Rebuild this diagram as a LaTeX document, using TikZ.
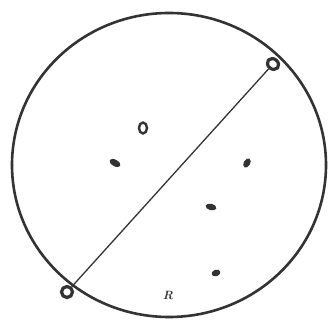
\documentclass[tikz,border=0pt]{standalone}
\usetikzlibrary{shapes.geometric}
\definecolor{ink}{HTML}{333333}

\begin{document}
\begin{tikzpicture}[x=1pt, y=-1pt,
  pin/.style={draw=ink, line width=3.2pt, fill=white, ellipse,
    minimum width=12pt, minimum height=10pt, inner sep=0pt},
  spot/.style={fill=ink, ellipse, inner sep=0pt,
    minimum width=#1, minimum height=6.5pt},
  ring/.style={draw=ink, line width=2.4pt, ellipse, inner sep=0pt,
    minimum width=8pt, minimum height=11pt},
]
\useasboundingbox (0,0) rectangle (333,323);

% Outer circle
\draw[ink, line width=2.6pt] (169,165) ellipse [x radius=157, y radius=152];

% Chord ends
\node[pin, rotate=-40] (top) at (273,64) {};
\node[pin, minimum width=11pt, minimum height=11pt] (bot) at (67,292) {};

% Chord
\draw[ink, line width=1.3pt] (top) -- (bot);

% Marks
\node[ring] (oh) at (143,128) {};
\node[spot=12pt, rotate=-30] (s1) at (115,163) {};
\node[spot=10pt, rotate=60] (s2) at (247,163) {};
\node[spot=11pt, rotate=-15] (s3) at (211,207) {};
\node[spot=9pt, rotate=20] (s4) at (216,273) {};
\node[font=\bfseries\large, text=ink, inner sep=0pt] (r) at (168,295) {\textit{R}};

\end{tikzpicture}
\end{document}
